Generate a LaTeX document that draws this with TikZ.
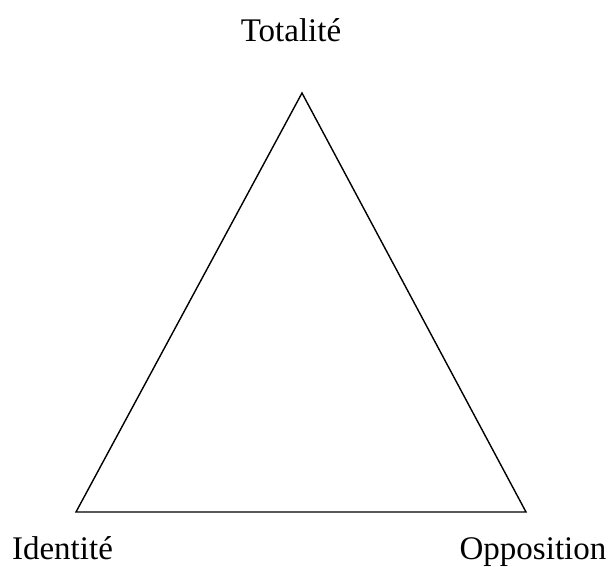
\documentclass[tikz,border=0pt]{standalone}
\usepackage{fontspec}
\setmainfont{Liberation Serif}
\usetikzlibrary{positioning}

\begin{document}
\begin{tikzpicture}[x=1pt, y=1pt, font=\fontsize{33}{36}\selectfont,
  side/.style={line width=1.4pt, line join=miter},
  pole/.style={anchor=base, inner sep=0pt}]

% Frame
\useasboundingbox (0,0) rectangle (611,567);

% Corners of the triangle
\coordinate (top)   at (302,474);
\coordinate (left)  at (76,55);
\coordinate (right) at (526,55);

\draw[side] (top) -- (right) -- (left) -- cycle;

% Labels
\node[pole] (tot) at (291,525)   {Totalité};
\node[pole] (ide) at (62.5,7)    {Identité};
\node[pole] (opp) at (533,7)     {Opposition};

\end{tikzpicture}
\end{document}
